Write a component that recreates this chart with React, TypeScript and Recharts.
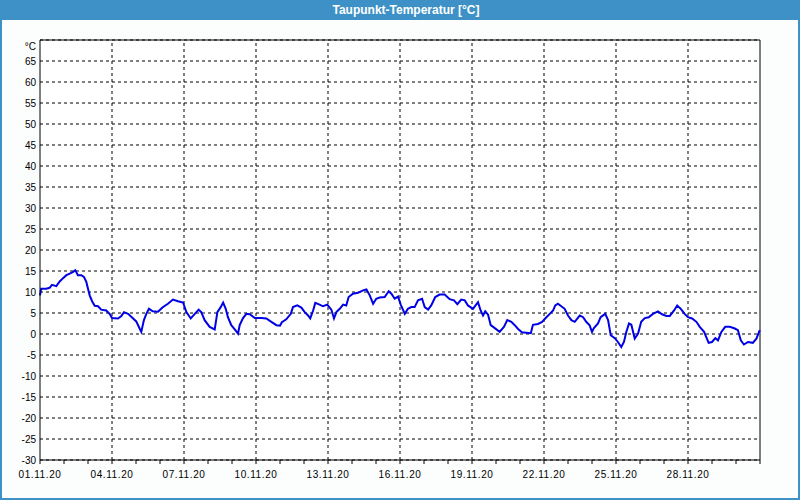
import React from 'react';
import { LineChart, Line, XAxis, YAxis, CartesianGrid, ReferenceLine } from 'recharts';

// time in days since 01.11.20 00:00
const days = [
  0.0, 0.05, 0.26, 0.4, 0.5, 0.68, 0.82, 0.96, 1.1, 1.24, 1.38, 1.47, 1.58, 1.72, 1.83, 1.93,
  2.0, 2.07, 2.17, 2.28, 2.42, 2.55, 2.76, 2.9, 3.0, 3.25, 3.39, 3.5, 3.67, 3.88, 4.01, 4.15,
  4.22, 4.33, 4.43, 4.54, 4.7, 4.92, 5.1, 5.33, 5.54, 5.75, 5.96, 6.1, 6.28, 6.45, 6.61, 6.72,
  6.86, 7.07, 7.28, 7.39, 7.53, 7.63, 7.74, 7.83, 7.97, 8.14, 8.25, 8.32, 8.46, 8.6, 8.74, 8.95,
  9.22, 9.43, 9.64, 9.85, 10.0, 10.08, 10.26, 10.45, 10.54, 10.72, 10.89, 11.03, 11.17, 11.26,
  11.38, 11.47, 11.65, 11.79, 11.97, 12.14, 12.25, 12.35, 12.49, 12.63, 12.76, 12.86, 13.04,
  13.25, 13.46, 13.6, 13.74, 13.88, 14.01, 14.15, 14.36, 14.53, 14.64, 14.78, 14.92, 15.03,
  15.2, 15.33, 15.47, 15.61, 15.75, 15.92, 16.03, 16.17, 16.3, 16.47, 16.65, 16.86, 17.07,
  17.25, 17.39, 17.55, 17.7, 17.83, 18.04, 18.25, 18.36, 18.46, 18.55, 18.67, 18.78, 18.95,
  19.15, 19.33, 19.47, 19.64, 19.78, 19.92, 20.08, 20.26, 20.45, 20.54, 20.75, 20.92, 21.05,
  21.24, 21.38, 21.47, 21.58, 21.72, 21.86, 22.0, 22.14, 22.28, 22.49, 22.63, 22.76, 22.9,
  23.0, 23.08, 23.25, 23.36, 23.55, 23.67, 23.78, 23.95, 24.08, 24.22, 24.33, 24.43, 24.54,
  24.64, 24.78, 24.92, 25.05, 25.2, 25.36, 25.54, 25.75, 25.92, 26.1, 26.24, 26.42, 26.55,
  26.7, 26.86, 27.0, 27.17, 27.35, 27.49, 27.67, 27.86, 28.0, 28.14, 28.25, 28.39, 28.55,
  28.74, 28.95, 29.08, 29.2, 29.33, 29.5, 29.7, 29.85, 29.99,
];

const dewPoint = [
  9.2, 10.8, 10.8, 11.0, 11.7, 11.4, 12.5, 13.3, 14.0, 14.4, 14.8, 15.2, 14.0, 14.0, 13.6, 12.4,
  10.8, 9.2, 7.8, 6.7, 6.6, 5.8, 5.6, 4.8, 3.8, 3.7, 4.3, 5.2, 4.8, 3.7, 3.0, 1.3,
  0.5, 3.3, 4.8, 6.0, 5.4, 5.3, 6.3, 7.2, 8.2, 7.8, 7.5, 5.2, 3.7, 4.8, 5.8, 5.2,
  3.3, 1.7, 1.1, 5.2, 6.4, 7.5, 6.0, 4.0, 2.1, 0.9, 0.1, 2.1, 3.8, 4.8, 4.7, 3.8,
  3.8, 3.7, 2.9, 2.1, 2.0, 2.8, 3.5, 4.8, 6.4, 6.8, 6.3, 5.2, 4.4, 3.7,
  5.6, 7.4, 7.0, 6.6, 7.0, 5.8, 3.7, 5.2, 6.0, 7.0, 6.8, 8.8, 9.6,
  9.8, 10.4, 10.6, 9.2, 7.2, 8.4, 8.7, 8.8, 10.2, 9.6, 8.4, 8.9, 7.0,
  4.8, 6.0, 6.4, 6.4, 8.0, 8.4, 6.4, 5.8, 6.8, 8.8, 9.4, 9.4, 8.3,
  8.0, 7.1, 8.2, 8.0, 6.8, 6.0, 7.6, 5.6, 4.4, 5.4, 4.6, 2.1, 1.4,
  0.5, 1.7, 3.3, 2.9, 2.1, 1.2, 0.4, 0.3, 0.2, 2.2, 2.4, 2.9, 3.7,
  4.8, 5.6, 6.8, 7.2, 6.6, 6.0, 4.4, 3.3, 2.9, 4.4, 4.0, 2.9, 2.1,
  0.5, 1.4, 2.5, 4.0, 4.8, 3.3, -0.3, -1.0, -1.9, -3.1, -1.9, 0.5, 2.5,
  2.2, -1.1, 0.1, 2.9, 3.8, 4.0, 4.8, 5.4, 4.7, 4.3, 4.3, 5.6, 6.8,
  6.0, 4.8, 4.0, 3.7, 2.9, 1.7, 0.5, -2.1, -1.9, -1.0, -1.5, 0.5, 1.7,
  1.7, 1.3, 0.9, -1.5, -2.5, -1.9, -2.1, -1.1, 0.9,
];

const dateLabels = [
  '01.11.20', '04.11.20', '07.11.20', '10.11.20', '13.11.20',
  '16.11.20', '19.11.20', '22.11.20', '25.11.20', '28.11.20',
];

const dayTicks = [
  0, 1, 2, 3, 4, 5, 6, 7, 8, 9, 10, 11, 12, 13, 14, 15,
  16, 17, 18, 19, 20, 21, 22, 23, 24, 25, 26, 27, 28, 29, 30,
];
const gridDays = [3, 6, 9, 12, 15, 18, 21, 24, 27];
const yTicks = [-30, -25, -20, -15, -10, -5, 0, 5, 10, 15, 20, 25, 30, 35, 40, 45, 50, 55, 60, 65, 70];

const data = days.map((d, i) => ({ t: d, v: dewPoint[i] }));

const FONT = '"Liberation Sans", Arial, sans-serif';

const XTick = (props: any) => {
  const { x, y, payload } = props;
  const d = payload.value;
  if (d % 3 !== 0 || d / 3 >= dateLabels.length) return null;
  return (
    <text x={x} y={y} dy={8} textAnchor="middle" fontSize={10} fontFamily={FONT} fill="#000" letterSpacing={0.6}>
      {dateLabels[d / 3]}
    </text>
  );
};

const YTick = (props: any) => {
  const { x, y, payload } = props;
  const isUnit = payload.value === 70;
  return (
    <text x={x} y={y + (isUnit ? 6 : 0)} dy={4} textAnchor="end" fontSize={10} fontFamily={FONT} fill="#000">
      {isUnit ? '°C' : payload.value}
    </text>
  );
};

export default function App() {
  return (
    <div
      style={{
        position: 'fixed',
        left: 0,
        top: 0,
        width: 800,
        height: 500,
        boxSizing: 'border-box',
        borderLeft: '2px solid #3d91c6',
        borderRight: '2px solid #3d91c6',
        borderBottom: '2px solid #3d91c6',
        background: '#fcfdfd',
      }}
    >
      <div
        style={{
          height: 20,
          margin: '0 -2px',
          background: '#3d91c6',
          color: '#fff',
          fontFamily: FONT,
          fontWeight: 'bold',
          fontSize: 12,
          lineHeight: '20px',
          textAlign: 'center',
          paddingLeft: 12,
        }}
      >
        Taupunkt-Temperatur [°C]
      </div>
      <LineChart width={796} height={478} data={data} margin={{ top: 20, right: 38, bottom: 8, left: 0 }}>
        <CartesianGrid vertical={false} stroke="#000" strokeDasharray="3 3" fill="#fff" />
        <XAxis
          dataKey="t"
          type="number"
          domain={[0, 30]}
          ticks={dayTicks}
          interval={0}
          tick={<XTick />}
          tickSize={4}
          tickMargin={6}
          stroke="#000"
          height={30}
        />
        <YAxis
          type="number"
          domain={[-30, 70]}
          ticks={yTicks}
          interval={0}
          tick={<YTick />}
          tickLine={false}
          tickSize={0}
          tickMargin={4}
          stroke="#000"
          width={38}
        />
        {gridDays.map((d) => (
          <ReferenceLine key={d} x={d} stroke="#000" strokeDasharray="3 3" />
        ))}
        <ReferenceLine y={70} stroke="#000" />
        <ReferenceLine x={30} stroke="#000" />
        <Line
          dataKey="v"
          type="linear"
          stroke="#0000e6"
          strokeWidth={2}
          dot={false}
          isAnimationActive={false}
        />
      </LineChart>
    </div>
  );
}
